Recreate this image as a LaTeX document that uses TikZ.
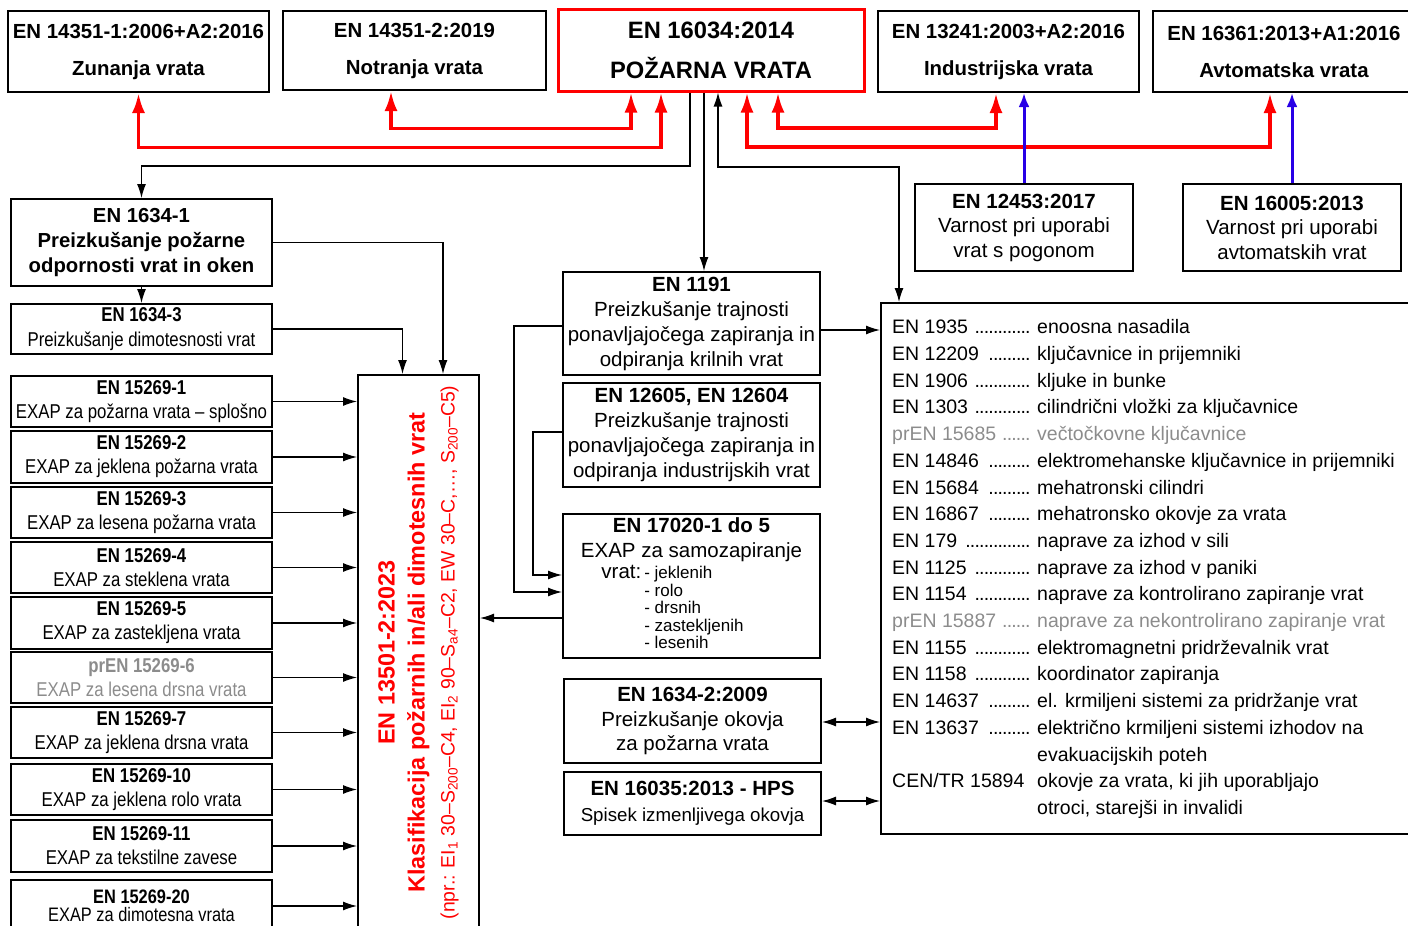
\documentclass[tikz,border=0pt]{standalone}
\usepackage{graphicx}
\usepackage{fontspec}
\setmainfont{Liberation Sans}
\newfontfamily\narrowfont{Liberation Sans}[FakeStretch=0.84]
\usetikzlibrary{arrows.meta}
\definecolor{prgray}{RGB}{140,140,140}
\definecolor{linkblue}{RGB}{40,0,230}
\newcommand{\dotlead}{\leaders\hbox to 4.6pt{\hss.\hss}\hfill\hspace{3pt}}
\newcommand{\stdno}[1]{\makebox[145pt][l]{#1\ \dotlead}}
\begin{document}
\begin{tikzpicture}[x=1pt,y=-1pt,>={Latex[length=14pt,width=9pt]},
  box/.style={draw,line width=2pt,inner sep=0pt,align=center},
  topbox/.style={box,minimum width=261pt,minimum height=81pt,font=\fontsize{20.4}{37}\selectfont\bfseries},
  safebox/.style={box,minimum width=218pt,minimum height=87pt,font=\fontsize{20.5}{24.5}\selectfont},
  exapbox/.style={box,minimum width=261pt,minimum height=51.5pt,font=\narrowfont\fontsize{20}{24}\selectfont},
  midbox/.style={box,minimum width=257pt,font=\fontsize{20.5}{25}\selectfont},
  link/.style={line width=1.3pt},
  redlink/.style={line width=3.5pt,red,{Latex[length=20pt,width=13pt]}-{Latex[length=20pt,width=13pt]}},
  bluelink/.style={line width=3pt,linkblue,-{Latex[length=14pt,width=11pt]}}]
\useasboundingbox (0,0) rectangle (1408,926);

\node[topbox] (zun) at (138.5,51.5) {EN 14351-1:2006+A2:2016\\Zunanja vrata};
\node[topbox,minimum width=263pt,minimum height=79pt] (notr) at (414.5,50.5) {EN 14351-2:2019\\Notranja vrata};
\node[topbox,draw=red,line width=3pt,minimum width=306pt,minimum height=82pt,font=\fontsize{23.7}{40}\selectfont\bfseries] (poz) at (711,50) {EN 16034:2014\\POŽARNA VRATA};
\node[topbox] (ind) at (1008.5,51.5) {EN 13241:2003+A2:2016\\Industrijska vrata};
\node[topbox,minimum width=262pt] (avt) at (1284,51.5) {EN 16361:2013+A1:2016\\Avtomatska vrata};

\node[safebox] (gate) at (1024,227.5) {\textbf{EN 12453:2017}\\Varnost pri uporabi\\vrat s pogonom};
\node[safebox] (auto) at (1292,227.5) {\textbf{EN 16005:2013}\\Varnost pri uporabi\\avtomatskih vrat};

\node[box,minimum width=261pt,minimum height=87pt,font=\fontsize{20.3}{25}\selectfont\bfseries] (fire) at (141.5,242.5) {EN 1634-1\\Preizkušanje požarne\\odpornosti vrat in oken};
\node[exapbox,minimum height=50pt,font=\narrowfont\fontsize{20}{25}\selectfont] (smoke) at (141.5,329) {\textbf{EN 1634-3}\\Preizkušanje dimotesnosti vrat};

\foreach \n/\yc/\nm/\tx/\cl in {1/401.5/EN 15269-1/EXAP za požarna vrata – splošno/black,
    2/457/EN 15269-2/EXAP za jeklena požarna vrata/black,
    3/512.5/EN 15269-3/EXAP za lesena požarna vrata/black,
    4/567.5/EN 15269-4/EXAP za steklena vrata/black,
    5/623/EN 15269-5/EXAP za zastekljena vrata/black,
    6/677.5/prEN 15269-6/EXAP za lesena drsna vrata/prgray,
    7/732.5/EN 15269-7/EXAP za jeklena drsna vrata/black,
    10/789.5/EN 15269-10/EXAP za jeklena rolo vrata/black,
    11/846/EN 15269-11/EXAP za tekstilne zavese/black}
  \node[exapbox,text=\cl] (E\n) at (141.5,\yc) {\textbf{\nm}\\\tx};
\node[exapbox,minimum height=52pt,font=\narrowfont\fontsize{19.5}{18.5}\selectfont] (E20) at (141.5,906) {\textbf{EN 15269-20}\\EXAP za dimotesna vrata};

\node[box,minimum width=121pt,minimum height=555pt,text=red] (class) at (418.5,652.5) {\rotatebox{90}{\fontsize{23.4}{30}\selectfont\bfseries
  \begin{tabular}{@{}c@{}}
  EN 13501-2:2023\\
  Klasifikacija požarnih in/ali dimotesnih vrat\\
  {\mdseries\fontsize{19.4}{30}\selectfont (npr.: EI\textsubscript{1} 30–S\textsubscript{200}–C4, EI\textsubscript{2} 90–S\textsubscript{a4}–C2, EW 30–C,…, S\textsubscript{200}–C5)}
  \end{tabular}}};

\node[midbox,minimum height=103pt] (b1191) at (691.5,323.5) {\textbf{EN 1191}\\Preizkušanje trajnosti\\ponavljajočega zapiranja in\\odpiranja krilnih vrat};
\node[midbox,minimum height=104pt] (b12605) at (691.5,435) {\textbf{EN 12605, EN 12604}\\Preizkušanje trajnosti\\ponavljajočega zapiranja in\\odpiranja industrijskih vrat};
\node[midbox,minimum height=144pt] (b17020) at (691.5,586) {\textbf{EN 17020-1 do 5}\\EXAP za samozapiranje\\[-4pt]\hspace*{-38pt}{\fontsize{17}{17.2}\selectfont
  \begin{tabular}[t]{@{}l@{\hspace{3pt}}l@{}}
  {\fontsize{20.5}{17}\selectfont\smash{vrat:}} & - jeklenih\\
   & - rolo\\
   & - drsnih\\
   & - zastekljenih\\
   & - lesenih
  \end{tabular}}};
\node[midbox,minimum height=84pt,font=\fontsize{20.5}{24.5}\selectfont] (hw) at (692.5,721) {\textbf{EN 1634-2:2009}\\Preizkušanje okovja\\za požarna vrata};
\node[midbox,minimum height=63pt,font=\fontsize{20.5}{26}\selectfont] (hps) at (692.5,803.5) {\textbf{EN 16035:2013 - HPS}\\{\fontsize{18.7}{26}\selectfont Spisek izmenljivega okovja}};

\node[box,minimum width=535pt,minimum height=531pt,anchor=north west] (list) at (880,302) {};
\node[anchor=north west,inner sep=0pt,font=\fontsize{19.5}{26.7}\selectfont] (norms) at ([xshift=12pt,yshift=-13pt]list.north west) {%
  \begin{tabular}{@{}l@{}l@{}}
  \stdno{EN 1935} & enoosna nasadila\\
  \stdno{EN 12209} & ključavnice in prijemniki\\
  \stdno{EN 1906} & kljuke in bunke\\
  \stdno{EN 1303} & cilindrični vložki za ključavnice\\
  \color{prgray}\stdno{prEN 15685} & \color{prgray}večtočkovne ključavnice\\
  \stdno{EN 14846} & elektromehanske ključavnice in prijemniki\\
  \stdno{EN 15684} & mehatronski cilindri\\
  \stdno{EN 16867} & mehatronsko okovje za vrata\\
  \stdno{EN 179} & naprave za izhod v sili\\
  \stdno{EN 1125} & naprave za izhod v paniki\\
  \stdno{EN 1154} & naprave za kontrolirano zapiranje vrat\\
  \color{prgray}\stdno{prEN 15887} & \color{prgray}naprave za nekontrolirano zapiranje vrat\\
  \stdno{EN 1155} & elektromagnetni pridrževalnik vrat\\
  \stdno{EN 1158} & koordinator zapiranja\\
  \stdno{EN 14637} & el. krmiljeni sistemi za pridržanje vrat\\
  \stdno{EN 13637} & električno krmiljeni sistemi izhodov na\\
   & evakuacijskih poteh\\
  \makebox[145pt][l]{CEN/TR 15894} & okovje za vrata, ki jih uporabljajo\\
   & otroci, starejši in invalidi
  \end{tabular}};

\draw[redlink] (zun.south) |- ([xshift=-50pt,yshift=-55pt]poz.south) -- ([xshift=-50pt]poz.south);
\draw[redlink] ([xshift=-23.5pt]notr.south) |- ([xshift=-80pt,yshift=-36pt]poz.south) -- ([xshift=-80pt]poz.south);
\draw[redlink] ([xshift=67pt]poz.south) |- ([xshift=-12.5pt,yshift=-35pt]ind.south) -- ([xshift=-12.5pt]ind.south);
\draw[redlink] ([xshift=36pt]poz.south) |- ([xshift=-14pt,yshift=-54pt]avt.south) -- ([xshift=-14pt]avt.south);
\draw[bluelink] (gate.north) -- (gate.north |- ind.south);
\draw[bluelink] (auto.north) -- (auto.north |- avt.south);

\draw[link,->] ([xshift=-21pt]poz.south) |- ([yshift=32pt]fire.north) -- (fire.north);
\draw[link,->] ([xshift=-7pt]poz.south) -- ([xshift=-7pt]poz.south |- b1191.north);
\draw[link,<->] ([xshift=7pt]poz.south) |- ([xshift=19pt,yshift=135pt]list.north west) -- ([xshift=19pt]list.north west);
\draw[link,->] (fire.south) -- (smoke.north);
\draw[link,->] (fire.east) -| ([xshift=24.5pt]class.north);
\draw[link,->] (smoke.east) -| ([xshift=-16pt]class.north);
\foreach \n in {1,2,3,4,5,6,7,10,11,20}
  \draw[link,->] (E\n.east) -- (E\n.east -| class.west);
\draw[link,->] ([yshift=-32pt]b17020.west) -- ([yshift=-32pt]b17020.west -| class.east);
\draw[link,->] ([yshift=-2.5pt]b1191.west) -- ++(-48pt,0) |- ([yshift=-6pt]b17020.west);
\draw[link,->] ([yshift=3pt]b12605.west) -- ++(-29pt,0) |- ([yshift=11pt]b17020.west);
\draw[link,->] ([yshift=-6.5pt]b1191.east) -- ([yshift=-6.5pt]b1191.east -| list.west);
\draw[link,<->] ([yshift=-1pt]hw.east) -- ([yshift=-1pt]hw.east -| list.west);
\draw[link,<->] ([yshift=2.5pt]hps.east) -- ([yshift=2.5pt]hps.east -| list.west);
\end{tikzpicture}
\end{document}
